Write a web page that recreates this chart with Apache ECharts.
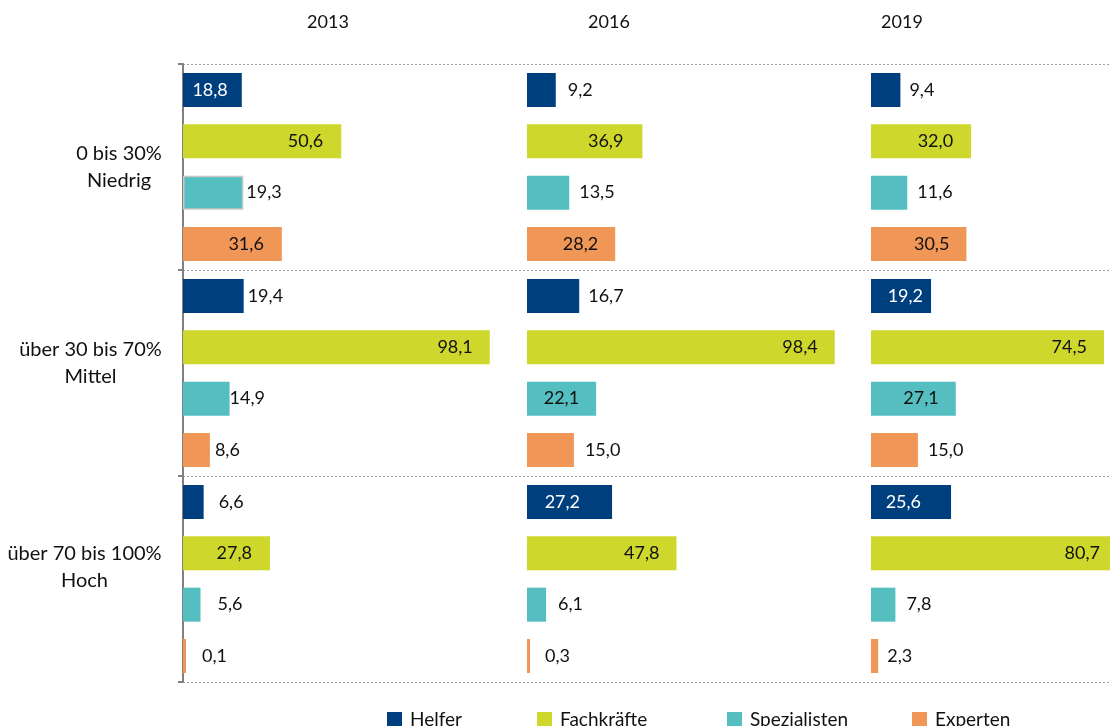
<!DOCTYPE html>
<html>
<head>
<meta charset="utf-8">
<script src="https://cdn.jsdelivr.net/npm/echarts@6/dist/echarts.min.js"></script>
<style>html,body{margin:0;padding:0;background:#fff}#c{width:1110px;height:726px}</style>
</head>
<body>
<div id="c"></div>
<script>
// ---- data ----
const categories = ['0 bis 30%\nNiedrig', 'über 30 bis 70%\nMittel', 'über 70 bis 100%\nHoch'];
const years = ['2013', '2016', '2019'];
const seriesNames = ['Helfer', 'Fachkräfte', 'Spezialisten', 'Experten'];

const helfer_2013 = [18.8, 19.4, 6.6];
const fachkraefte_2013 = [50.6, 98.1, 27.8];
const spezialisten_2013 = [19.3, 14.9, 5.6];
const experten_2013 = [31.6, 8.6, 0.1];

const helfer_2016 = [9.2, 16.7, 27.2];
const fachkraefte_2016 = [36.9, 98.4, 47.8];
const spezialisten_2016 = [13.5, 22.1, 6.1];
const experten_2016 = [28.2, 15.0, 0.3];

const helfer_2019 = [9.4, 19.2, 25.6];
const fachkraefte_2019 = [32.0, 74.5, 80.7];
const spezialisten_2019 = [11.6, 27.1, 7.8];
const experten_2019 = [30.5, 15.0, 2.3];

// ---- label placement (style, separate from data): 'i' inside-right / 'o' outside-right, distance ----
const labelLayout = [
  [ // 2013
    [['i',14],['o',4],['o',15]],
    [['i',18],['i',17],['i',18]],
    [['o',3],['o',0],['o',17]],
    [['i',18],['o',5],['o',16]]
  ],
  [ // 2016
    [['o',12],['o',9],['i',32]],
    [['i',19],['i',17],['i',17]],
    [['o',10],['i',17],['o',12]],
    [['i',17],['o',11],['o',15]]
  ],
  [ // 2019
    [['o',9],['i',8],['i',30]],
    [['i',18],['i',17],['i',10]],
    [['o',10],['i',17],['o',11]],
    [['i',17],['o',10],['o',9]]
  ]
];
// vertical nudge of the category labels (extra spacer below the text, px)
const labelSpacer = [0, 20, 24];

const colors = ['#003f7e', '#ced72b', '#55bec0', '#f09657'];
const FONT = 'Lato';
const FS = 18;
const FS_AXIS = 20;
const FS_LEGEND = 19;

const values = [
  [helfer_2013, fachkraefte_2013, spezialisten_2013, experten_2013],
  [helfer_2016, fachkraefte_2016, spezialisten_2016, experten_2016],
  [helfer_2019, fachkraefte_2019, spezialisten_2019, experten_2019]
];

function build() {
  // measure label widths to center lines inside a right-aligned block
  const ctx = document.createElement('canvas').getContext('2d');
  ctx.font = FS_AXIS + 'px ' + FONT;
  const rich = {};
  categories.forEach((c, i) => {
    const w = Math.max(...c.split('\n').map(l => ctx.measureText(l).width));
    rich['c' + i] = {width: Math.ceil(w) + 2, align: 'center', fontFamily: FONT, fontSize: FS_AXIS, color: '#111', lineHeight: 27};
    rich['s' + i] = {height: labelSpacer[i], lineHeight: labelSpacer[i], fontSize: 1};
  });

  // panels: same scale (344 px for 0..110); the last panel is cut by the canvas edge
  const PANEL_W = 344, AXIS_MAX = 110, CANVAS_W = 1110;
  const gridLefts = [183, 527, 871];
  const gridWidths = gridLefts.map(l => Math.min(PANEL_W, CANVAS_W - l));
  const grids = gridLefts.map((l, i) => ({left: l, width: gridWidths[i], top: 64, bottom: 44}));

  const xAxes = years.map((y, i) => ({
    type: 'value', gridIndex: i, min: 0, max: AXIS_MAX * gridWidths[i] / PANEL_W,
    show: false, splitLine: {show: false}
  }));

  const yAxes = years.map((y, i) => ({
    type: 'category', gridIndex: i, inverse: true, data: categories,
    axisLine: {show: i === 0, lineStyle: {color: '#808080', width: 2}},
    axisTick: {show: i === 0, length: 5, lineStyle: {color: '#808080', width: 2}},
    axisLabel: {
      show: i === 0, margin: 20, align: 'right',
      formatter: (v, idx) => {
        let s = v.split('\n').map(l => '{c' + idx + '|' + l + '}').join('\n');
        if (labelSpacer[idx] > 0) s += '\n{s' + idx + '| }';
        return s;
      },
      rich: rich
    },
    splitLine: {show: true, lineStyle: {color: '#a0a0a0', width: 1, type: [2, 2]}}
  }));

  const fmt = v => v.toFixed(1).replace('.', ',');

  const series = [];
  years.forEach((y, yi) => {
    seriesNames.forEach((name, si) => {
      series.push({
        type: 'bar', name: name, xAxisIndex: yi, yAxisIndex: yi,
        barWidth: 34, barGap: '51%', barMinHeight: 3, clip: true,
        itemStyle: {color: colors[si]},
        data: values[yi][si].map((v, ci) => {
          const [p, d] = labelLayout[yi][si][ci];
          const inside = p === 'i';
          const item = {
            value: v,
            label: {
              show: true,
              position: inside ? 'insideRight' : 'right',
              distance: d,
              formatter: fmt(v),
              fontFamily: FONT, fontSize: FS,
              color: (inside && si === 0) ? '#ffffff' : '#111111'
            }
          };
          if (yi === 0 && si === 2 && ci === 0) {
            item.itemStyle = {borderColor: '#c8c8c8', borderWidth: 1.5};
          }
          return item;
        })
      });
    });
  });

  const titleCenters = [328, 609, 902];
  const titles = years.map((y, i) => ({
    text: y, left: titleCenters[i], top: 13, textAlign: 'center', padding: 0,
    textStyle: {fontFamily: FONT, fontSize: FS, fontWeight: 'normal', color: '#111'}
  }));

  const legendLefts = [387, 537, 727, 912];
  const legends = seriesNames.map((n, i) => ({
    data: [n], left: legendLefts[i], top: 710, padding: 0,
    icon: 'rect', itemWidth: 15, itemHeight: 15,
    textStyle: {fontFamily: FONT, fontSize: FS_LEGEND, color: '#111', padding: [0, 0, 0, 3]}
  }));

  const chart = echarts.init(document.getElementById('c'));
  chart.setOption({
    animation: false,
    backgroundColor: '#ffffff',
    title: titles,
    legend: legends,
    grid: grids,
    xAxis: xAxes,
    yAxis: yAxes,
    series: series
  });
}

if (document.fonts && document.fonts.load) {
  Promise.all([
    document.fonts.load(FS_AXIS + 'px ' + FONT),
    document.fonts.load(FS + 'px ' + FONT)
  ]).then(build, build);
} else {
  build();
}
</script>
</body>
</html>
